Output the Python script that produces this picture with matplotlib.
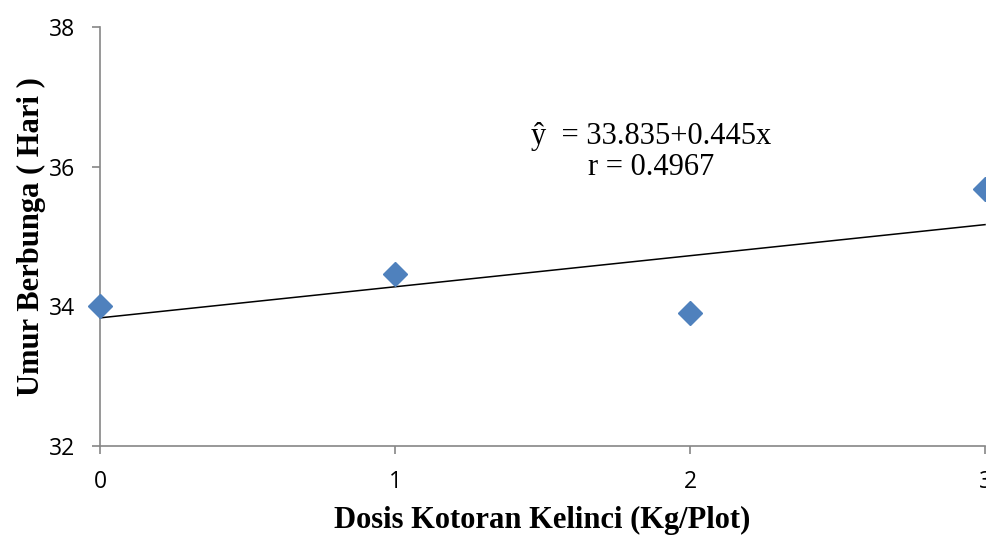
import matplotlib
matplotlib.use("Agg")
import matplotlib.pyplot as plt
import numpy as np

dosis = [0, 1, 2, 3]
umur = [34.0, 34.47, 33.9, 35.68]
intercept = 33.835
slope = 0.445
x_ticks = [0, 1, 2, 3]
y_ticks = [32, 34, 36, 38]

fig = plt.figure(figsize=(9.86, 5.39), dpi=100)
ax = fig.add_axes([100/986, (539-446)/539, 885/986, (446-27)/539])

xl = np.array([0, 3])
ax.plot(xl, intercept + slope * xl, color="black", lw=1.1, zorder=2, clip_on=False)
ax.plot(dosis, umur, linestyle="none", marker="D", ms=12, color="#4F81BD",
        markeredgecolor="#4F81BD", zorder=3, clip_on=False)

ax.set_xlim(0, 3)
ax.set_ylim(32, 38)
ax.set_xticks(x_ticks)
ax.set_yticks(y_ticks)
for s in ["top", "right"]:
    ax.spines[s].set_visible(False)
for s in ["left", "bottom"]:
    ax.spines[s].set_color("#868686")
    ax.spines[s].set_linewidth(1.2)
ax.tick_params(axis="both", direction="out", length=6, width=1.2, color="#868686",
               labelsize=16.5)
ax.tick_params(axis="x", pad=11)
ax.tick_params(axis="y", pad=12)
for lab in ax.get_xticklabels() + ax.get_yticklabels():
    lab.set_family("Open Sans")

ax.set_xlabel("Dosis Kotoran Kelinci (Kg/Plot)", family="Liberation Serif",
              fontweight="bold", fontsize=22, labelpad=9)
ax.set_ylabel("Umur Berbunga ( Hari )", family="Liberation Serif",
              fontweight="bold", fontsize=22, labelpad=2)

ax.text(0.623, 0.702, "ŷ  = 33.835+0.445x\nr = 0.4967", transform=ax.transAxes,
        ha="center", va="center", family="Liberation Serif", fontsize=22,
        linespacing=1.1)

fig.savefig("out.png", dpi=100)
